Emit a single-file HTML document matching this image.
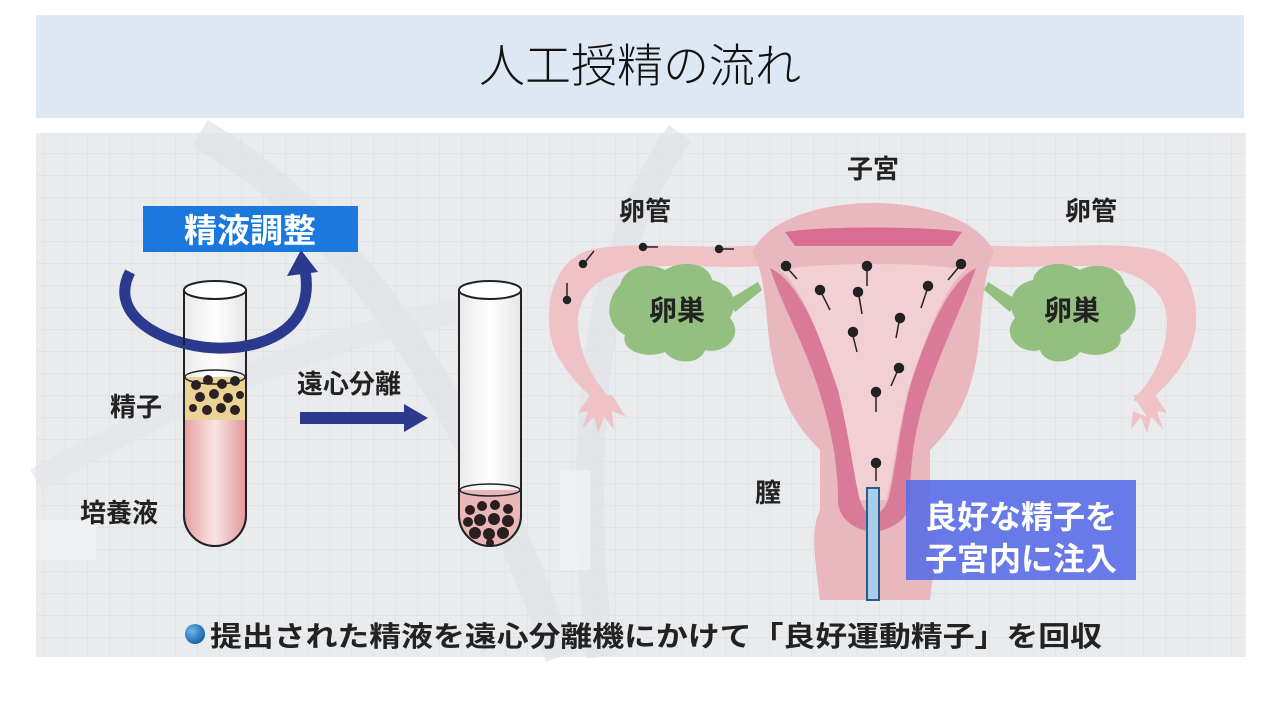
<!DOCTYPE html>
<html><head><meta charset="utf-8"><style>
html,body{margin:0;padding:0;background:#fff;width:1280px;height:720px;overflow:hidden}
svg{display:block}
text{font-family:"Liberation Sans","Noto Sans CJK JP",sans-serif}
</style></head><body>
<svg width="1280" height="720" viewBox="0 0 1280 720" xmlns="http://www.w3.org/2000/svg">
<defs>
<pattern id="grid" width="22" height="22" patternUnits="userSpaceOnUse">
<path d="M22 0V22M0 22H22" stroke="#d9dcdf" stroke-width="1" fill="none"/>
</pattern>
<linearGradient id="tubeP" x1="0" x2="1"><stop offset="0" stop-color="#e7a3a6"/><stop offset="0.5" stop-color="#f8e4e4"/><stop offset="1" stop-color="#e39a9e"/></linearGradient>
<linearGradient id="tubeG" x1="0" x2="1"><stop offset="0" stop-color="#e9e9ea"/><stop offset="0.5" stop-color="#ffffff"/><stop offset="1" stop-color="#e6e6e7"/></linearGradient>
<radialGradient id="ball" cx="0.35" cy="0.35" r="0.7"><stop offset="0" stop-color="#6fb6ea"/><stop offset="1" stop-color="#1560a8"/></radialGradient>
</defs>
<rect x="36" y="15" width="1208" height="103" fill="#dde8f4"/>
<text x="640" y="82" font-size="46" text-anchor="middle" fill="#111" font-weight="300">人工授精の流れ</text>

<rect x="36" y="133" width="1210" height="524" fill="#e9ebed"/>
<rect x="36" y="133" width="1210" height="524" fill="url(#grid)"/>
<path d="M200 133 Q420 260 560 657" stroke="#e0e2e5" stroke-width="30" fill="none" opacity="0.7"/>
<path d="M680 133 Q560 300 600 657" stroke="#e0e2e5" stroke-width="28" fill="none" opacity="0.7"/>
<path d="M36 480 Q300 330 520 300" stroke="#e3e5e8" stroke-width="24" fill="none" opacity="0.7"/>
<path d="M36 520h60v40h-60z M560 470h30v100h-30z" fill="#f1f2f3" opacity="0.7"/>

<rect x="143" y="206" width="215" height="46" fill="#1b78dc"/>
<text x="250" y="242" font-size="33" font-weight="bold" fill="#fff" text-anchor="middle">精液調整</text>

<path d="M184 290 V515 A31 31 0 0 0 246 515 V290" fill="url(#tubeG)" stroke="#222" stroke-width="2"/>
<path d="M185 420 V515 A30 30 0 0 0 245 515 V420 Z" fill="url(#tubeP)"/>
<rect x="185" y="377" width="60" height="43" fill="#edd297"/>
<g fill="#2a2222">
<circle cx="196" cy="385" r="5"/><circle cx="208" cy="380" r="5"/><circle cx="222" cy="384" r="5"/><circle cx="235" cy="381" r="5"/>
<circle cx="200" cy="397" r="5"/><circle cx="214" cy="394" r="5"/><circle cx="228" cy="398" r="5"/><circle cx="240" cy="395" r="4"/>
<circle cx="193" cy="408" r="4"/><circle cx="207" cy="410" r="5"/><circle cx="221" cy="408" r="5"/><circle cx="235" cy="410" r="5"/>
</g>
<ellipse cx="215" cy="377" rx="30" ry="7" fill="none" stroke="#222" stroke-width="1.5"/>
<path d="M184 290 V515 A31 31 0 0 0 246 515 V290" fill="none" stroke="#222" stroke-width="2"/>
<ellipse cx="215" cy="290" rx="31" ry="9" fill="#fff" stroke="#222" stroke-width="2"/>
<path d="M130 272 C105 320 175 350 225 348 C270 347 315 325 305 270" fill="none" stroke="#2b3a8f" stroke-width="11"/>
<path d="M287 276 L301 250 L318 272 Z" fill="#2b3a8f"/>
<path d="M184 330 V345" stroke="#222" stroke-width="2"/>

<text x="110" y="416" font-size="26" font-weight="bold" fill="#222">精子</text>
<text x="80" y="522" font-size="26" font-weight="bold" fill="#222">培養液</text>

<text x="297" y="393" font-size="26" font-weight="bold" fill="#222">遠心分離</text>
<rect x="300" y="412" width="106" height="12" fill="#2b3a8f"/>
<path d="M404 404 L428 418 L404 432 Z" fill="#2b3a8f"/>

<path d="M459 290 V515 A31 31 0 0 0 521 515 V290" fill="url(#tubeG)" stroke="#222" stroke-width="2"/>
<path d="M460 490 V515 A30 30 0 0 0 520 515 V490 Z" fill="#e9b7b8"/>
<g fill="#2a1f1f">
<circle cx="470" cy="510" r="5"/><circle cx="482" cy="506" r="5"/><circle cx="495" cy="505" r="5"/><circle cx="508" cy="509" r="5"/>
<circle cx="468" cy="522" r="5"/><circle cx="480" cy="520" r="6"/><circle cx="494" cy="519" r="6"/><circle cx="508" cy="521" r="6"/>
<circle cx="475" cy="533" r="6"/><circle cx="489" cy="534" r="6"/><circle cx="503" cy="533" r="6"/><circle cx="490" cy="543" r="4"/>
</g>
<ellipse cx="490" cy="490" rx="30" ry="6" fill="none" stroke="#222" stroke-width="1.5"/>
<path d="M459 290 V515 A31 31 0 0 0 521 515 V290" fill="none" stroke="#222" stroke-width="2"/>
<ellipse cx="490" cy="290" rx="31" ry="9" fill="#fff" stroke="#222" stroke-width="2"/>

<g fill="#efc3c6" stroke="none">
<path d="M760 245 C700 250 630 240 590 250 C545 262 540 330 560 360 C575 385 590 395 600 405 L612 400 C598 385 578 360 578 320 C580 280 620 268 660 266 C700 266 735 268 762 266 Z"/>
<path d="M985 245 C1045 250 1115 240 1155 250 C1200 262 1205 330 1185 360 C1170 385 1155 395 1145 405 L1133 400 C1147 385 1167 360 1167 320 C1165 280 1125 268 1085 266 C1045 266 1010 268 983 266 Z"/>
<path d="M590 395 l-12 18 l10 -2 l-6 18 l12 -12 l4 16 l6 -16 l10 12 l-2 -18 l14 6 l-14 -22 Z"/>
<path d="M1155 395 l12 18 l-10 -2 l6 18 l-12 -12 l-4 16 l-6 -16 l-10 12 l2 -18 l14 6 l-14 -22 Z"/>
</g>
<path d="M752 252 C770 215 830 203 873 203 C916 203 976 215 994 252 C990 262 985 270 980 330 C975 400 950 430 930 450 L930 510 C940 530 935 560 930 600 L820 600 C815 560 810 530 820 510 L820 450 C800 430 775 400 768 330 C763 270 758 262 752 252 Z" fill="#e9b8be"/>
<path d="M785 232 C820 226 930 226 962 232 L952 246 L795 246 Z" fill="#d96e92"/>
<path d="M770 268 C795 280 815 320 835 380 C848 420 852 470 860 500 C866 520 880 520 888 500 C896 470 900 420 912 380 C932 320 952 280 976 268 C965 300 950 330 935 370 C915 420 910 460 910 500 C910 525 880 532 873 532 C866 532 838 525 838 500 C838 460 830 420 812 370 C797 330 780 300 770 268 Z" fill="#d97a98"/>
<path d="M780 270 C800 285 818 330 838 390 C848 430 855 480 860 500 L886 500 C892 480 898 430 908 390 C928 330 946 285 966 270 C930 262 820 262 780 270 Z" fill="#f2cfd3"/>
<path d="M620 285 C625 265 650 262 665 270 C685 258 710 265 712 280 C735 285 738 305 730 318 C745 335 725 355 705 350 C700 365 675 365 665 352 C645 360 620 350 625 335 C605 325 605 300 620 285 Z" fill="#93bf80"/>
<path d="M728 300 L758 282 L762 290 L735 312 Z" fill="#93bf80"/>
<path d="M1125 285 C1120 265 1095 262 1080 270 C1060 258 1035 265 1033 280 C1010 285 1007 305 1015 318 C1000 335 1020 355 1040 350 C1045 365 1070 365 1080 352 C1100 360 1125 350 1120 335 C1140 325 1140 300 1125 285 Z" fill="#93bf80"/>
<path d="M1017 300 L988 282 L984 290 L1010 312 Z" fill="#93bf80"/>
<g fill="#222" stroke="#222" stroke-width="1.5">
<circle cx="567" cy="300" r="3.5"/><path d="M567 297 v-14" fill="none"/>
<circle cx="583" cy="264" r="3.5"/><path d="M586 261 l8 -10" fill="none"/>
<circle cx="643" cy="247" r="3.5"/><path d="M646 247 h12" fill="none"/>
<circle cx="719" cy="249" r="3.5"/><path d="M722 249 h12" fill="none"/>
<circle cx="786" cy="266" r="4.5"/><path d="M789 270 l8 9" fill="none"/>
<circle cx="867" cy="266" r="4.5"/><path d="M867 270 v16" fill="none"/>
<circle cx="961" cy="264" r="4.5"/><path d="M958 268 l-10 12" fill="none"/>
<circle cx="820" cy="290" r="4.5"/><path d="M822 294 l8 16" fill="none"/>
<circle cx="858" cy="292" r="4.5"/><path d="M859 296 l3 18" fill="none"/>
<circle cx="928" cy="286" r="4.5"/><path d="M927 290 l-6 18" fill="none"/>
<circle cx="900" cy="318" r="4.5"/><path d="M899 322 l-3 16" fill="none"/>
<circle cx="853" cy="332" r="4.5"/><path d="M853 336 l4 16" fill="none"/>
<circle cx="899" cy="368" r="4.5"/><path d="M897 372 l-6 14" fill="none"/>
<circle cx="876" cy="392" r="4.5"/><path d="M876 396 v16" fill="none"/>
<circle cx="876" cy="463" r="4.5"/><path d="M876 467 v14" fill="none"/>
</g>
<rect x="867" y="488" width="12" height="112" fill="#a8cdea" stroke="#2a5a8a" stroke-width="2"/>

<text x="645" y="220" font-size="26" font-weight="bold" fill="#222" text-anchor="middle">卵管</text>
<text x="1091" y="220" font-size="26" font-weight="bold" fill="#222" text-anchor="middle">卵管</text>
<text x="873" y="178" font-size="26" font-weight="bold" fill="#222" text-anchor="middle">子宮</text>
<text x="768" y="502" font-size="26" font-weight="bold" fill="#222" text-anchor="middle">膣</text>
<text x="677" y="320" font-size="28" font-weight="bold" fill="#222" text-anchor="middle">卵巣</text>
<text x="1072" y="320" font-size="28" font-weight="bold" fill="#222" text-anchor="middle">卵巣</text>

<rect x="906" y="480" width="230" height="100" fill="#5a6ee6" opacity="0.9"/>
<text x="1021" y="528" font-size="32" font-weight="bold" fill="#fff" text-anchor="middle">良好な精子を</text>
<text x="1021" y="570" font-size="32" font-weight="bold" fill="#fff" text-anchor="middle">子宮内に注入</text>

<circle cx="195" cy="634" r="10" fill="url(#ball)"/>
<text x="210" y="646" font-size="28" font-weight="bold" fill="#222" textLength="892" lengthAdjust="spacingAndGlyphs">提出された精液を遠心分離機にかけて「良好運動精子」を回収</text>
</svg>
</body></html>
